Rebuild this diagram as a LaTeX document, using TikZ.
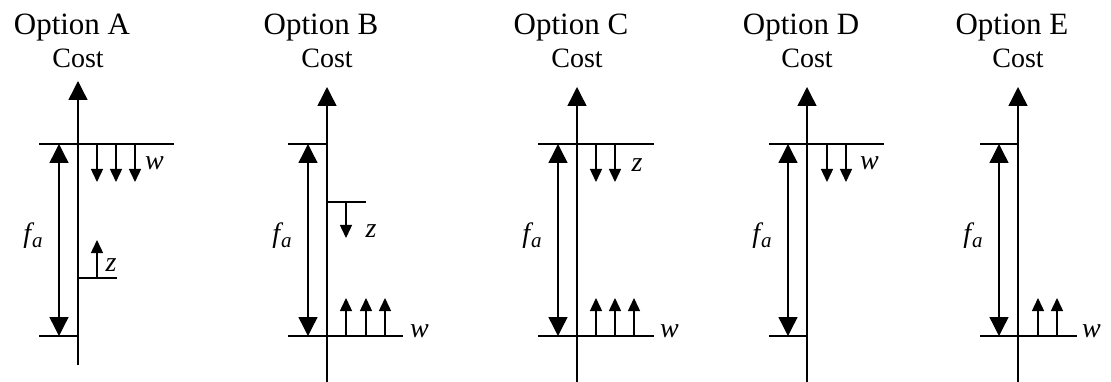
\documentclass[tikz,border=0pt]{standalone}
\usepackage{fontspec}
\setmainfont{Liberation Serif}
\usetikzlibrary{arrows.meta}

\tikzset{
  axisline/.style={line width=1.4pt, -{Triangle[length=19pt,width=19pt]}},
  rangearrow/.style={line width=1.4pt, {Triangle[length=19pt,width=19pt]}-{Triangle[length=19pt,width=19pt]}},
  shiftarrow/.style={line width=1.4pt, -{Triangle[length=13pt,width=12pt]}},
  level/.style={line width=1.4pt},
  titletext/.style={font=\fontsize{31}{33}\selectfont, anchor=base, inner sep=0pt},
  costtext/.style={font=\fontsize{28}{30}\selectfont, anchor=base, inner sep=0pt},
  vartext/.style={font=\fontsize{28}{30}\selectfont\itshape, inner sep=0pt}
}

% f with its subscript a
\newcommand{\flabel}{f\kern1pt\raisebox{-5pt}{\fontsize{21}{23}\selectfont a}}

\begin{document}
\begin{tikzpicture}[x=1pt,y=-1pt]
    \useasboundingbox (0,0) rectangle (1111,382);

    % Cost levels
    \def\yTop{144}
    \def\yBot{336}

    % Common parts of every option: title, axis, levels and f_a
    \foreach \opt/\ax/\at/\ab/\tl/\tr/\bl/\br in
        {A/78/81/365/-39/96/-39/0,
         B/327/87/382/-39/0/-39/76,
         C/577/87/382/-39/77/-39/77,
         D/807/87/382/-38/77/-38/0,
         E/1018/87/382/-38/0/-38/59} {
        \begin{scope}[xshift=\ax pt]
            \node[titletext] (title\opt) at (-6,35) {Option \opt};
            \node[costtext] (cost\opt) at (0,68) {Cost};
            \draw[axisline] (0,\ab) -- (0,\at);
            \draw[level] (\tl,\yTop) -- (\tr,\yTop);
            \draw[level] (\bl,\yBot) -- (\br,\yBot);
            \draw[rangearrow] (-19,\yTop) -- (-19,\yBot);
            \node[vartext] (fa\opt) at (-45,236) {\flabel};
        \end{scope}
    }

    % Option A
    \foreach \x in {97,116,135}
        \draw[shiftarrow] (\x,\yTop) -- (\x,182);
    \node[vartext, anchor=west] (wA) at (145,163) {w};
    \coordinate (stepA) at (78,278);
    \draw[level] (stepA) -- (117,278);
    \draw[shiftarrow] (97,278) -- (97,240);
    \node[vartext] (zA) at (111,265) {z};

    % Option B
    \coordinate (stepB) at (327,202);
    \draw[level] (stepB) -- (366,202);
    \draw[shiftarrow] (346,202) -- (346,238);
    \node[vartext] (zB) at (371,231) {z};
    \foreach \x in {346,366,385}
        \draw[shiftarrow] (\x,\yBot) -- (\x,298);
    \node[vartext, anchor=west] (wB) at (410,331) {w};

    % Option C
    \foreach \x in {596,615}
        \draw[shiftarrow] (\x,\yTop) -- (\x,182);
    \node[vartext] (zC) at (637,165) {z};
    \foreach \x in {596,615,634}
        \draw[shiftarrow] (\x,\yBot) -- (\x,298);
    \node[vartext, anchor=west] (wC) at (660,331) {w};

    % Option D
    \foreach \x in {827,846}
        \draw[shiftarrow] (\x,\yTop) -- (\x,182);
    \node[vartext, anchor=west] (wD) at (860,163) {w};

    % Option E
    \foreach \x in {1038,1057}
        \draw[shiftarrow] (\x,\yBot) -- (\x,298);
    \node[vartext, anchor=west] (wE) at (1082,331) {w};

\end{tikzpicture}
\end{document}
